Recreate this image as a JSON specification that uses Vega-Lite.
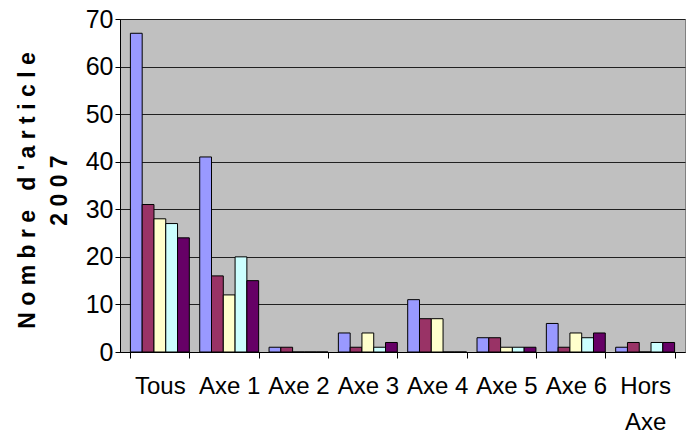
{
  "$schema": "https://vega.github.io/schema/vega-lite/v6.json",
  "width": 565,
  "height": 333,
  "autosize": "none",
  "padding": {"left": 120, "top": 19, "right": 2, "bottom": 96},
  "background": "white",
  "data": {
    "values": [
      {"cat": "Tous", "s": "S1", "v": 67}, {"cat": "Tous", "s": "S2", "v": 31}, {"cat": "Tous", "s": "S3", "v": 28}, {"cat": "Tous", "s": "S4", "v": 27}, {"cat": "Tous", "s": "S5", "v": 24},
      {"cat": "Axe 1", "s": "S1", "v": 41}, {"cat": "Axe 1", "s": "S2", "v": 16}, {"cat": "Axe 1", "s": "S3", "v": 12}, {"cat": "Axe 1", "s": "S4", "v": 20}, {"cat": "Axe 1", "s": "S5", "v": 15},
      {"cat": "Axe 2", "s": "S1", "v": 1}, {"cat": "Axe 2", "s": "S2", "v": 1}, {"cat": "Axe 2", "s": "S3", "v": 0}, {"cat": "Axe 2", "s": "S4", "v": 0}, {"cat": "Axe 2", "s": "S5", "v": 0},
      {"cat": "Axe 3", "s": "S1", "v": 4}, {"cat": "Axe 3", "s": "S2", "v": 1}, {"cat": "Axe 3", "s": "S3", "v": 4}, {"cat": "Axe 3", "s": "S4", "v": 1}, {"cat": "Axe 3", "s": "S5", "v": 2},
      {"cat": "Axe 4", "s": "S1", "v": 11}, {"cat": "Axe 4", "s": "S2", "v": 7}, {"cat": "Axe 4", "s": "S3", "v": 7}, {"cat": "Axe 4", "s": "S4", "v": 0}, {"cat": "Axe 4", "s": "S5", "v": 0},
      {"cat": "Axe 5", "s": "S1", "v": 3}, {"cat": "Axe 5", "s": "S2", "v": 3}, {"cat": "Axe 5", "s": "S3", "v": 1}, {"cat": "Axe 5", "s": "S4", "v": 1}, {"cat": "Axe 5", "s": "S5", "v": 1},
      {"cat": "Axe 6", "s": "S1", "v": 6}, {"cat": "Axe 6", "s": "S2", "v": 1}, {"cat": "Axe 6", "s": "S3", "v": 4}, {"cat": "Axe 6", "s": "S4", "v": 3}, {"cat": "Axe 6", "s": "S5", "v": 4},
      {"cat": "Hors Axe", "s": "S1", "v": 1}, {"cat": "Hors Axe", "s": "S2", "v": 2}, {"cat": "Hors Axe", "s": "S3", "v": 0}, {"cat": "Hors Axe", "s": "S4", "v": 2}, {"cat": "Hors Axe", "s": "S5", "v": 2}
    ]
  },
  "config": {
    "view": {"fill": "#C0C0C0", "stroke": "#808080", "strokeWidth": 1},
    "axis": {"labelColor": "black", "domainColor": "black", "tickColor": "black"}
  },
  "mark": {"type": "bar", "stroke": "black", "strokeWidth": 1},
  "encoding": {
    "x": {
      "field": "cat", "type": "nominal", "sort": null,
      "scale": {"paddingInner": 0.15, "paddingOuter": 0.15},
      "axis": {
        "title": null, "labelAngle": 0, "labelFontSize": 24, "labelPadding": 16,
        "labelFont": "Liberation Sans",
        "labelBaseline": "top", "labelLineHeight": 36,
        "labelExpr": "datum.value == 'Hors Axe' ? ['Hors', 'Axe'] : datum.value",
        "tickBand": "extent", "tickSize": 6, "grid": false
      }
    },
    "xOffset": {"field": "s", "type": "nominal", "scale": {"paddingInner": 0, "paddingOuter": 0}},
    "y": {
      "field": "v", "type": "quantitative",
      "scale": {"domain": [0, 70], "nice": false},
      "axis": {
        "values": [0, 10, 20, 30, 40, 50, 60, 70],
        "labelFont": "Liberation Sans",
        "labelFontSize": 25, "labelPadding": 2, "tickSize": 5,
        "grid": true, "gridColor": "#202020", "gridWidth": 1, "gridOpacity": 1,
        "title": ["N o m b r e \u00a0\u00a0d ' a r t i c l e", "2 0 0 7"],
        "titleFont": "Liberation Sans", "titleFontSize": 23, "titleFontWeight": "bold",
        "titleColor": "black", "titleLineHeight": 32,
        "titleAngle": -90, "titleX": -104, "titleY": 171, "titleAlign": "center", "titleBaseline": "top"
      }
    },
    "color": {
      "field": "s", "type": "nominal", "legend": null,
      "scale": {"domain": ["S1", "S2", "S3", "S4", "S5"], "range": ["#9999FF", "#993366", "#FFFFCC", "#CCFFFF", "#660066"]}
    }
  }
}
